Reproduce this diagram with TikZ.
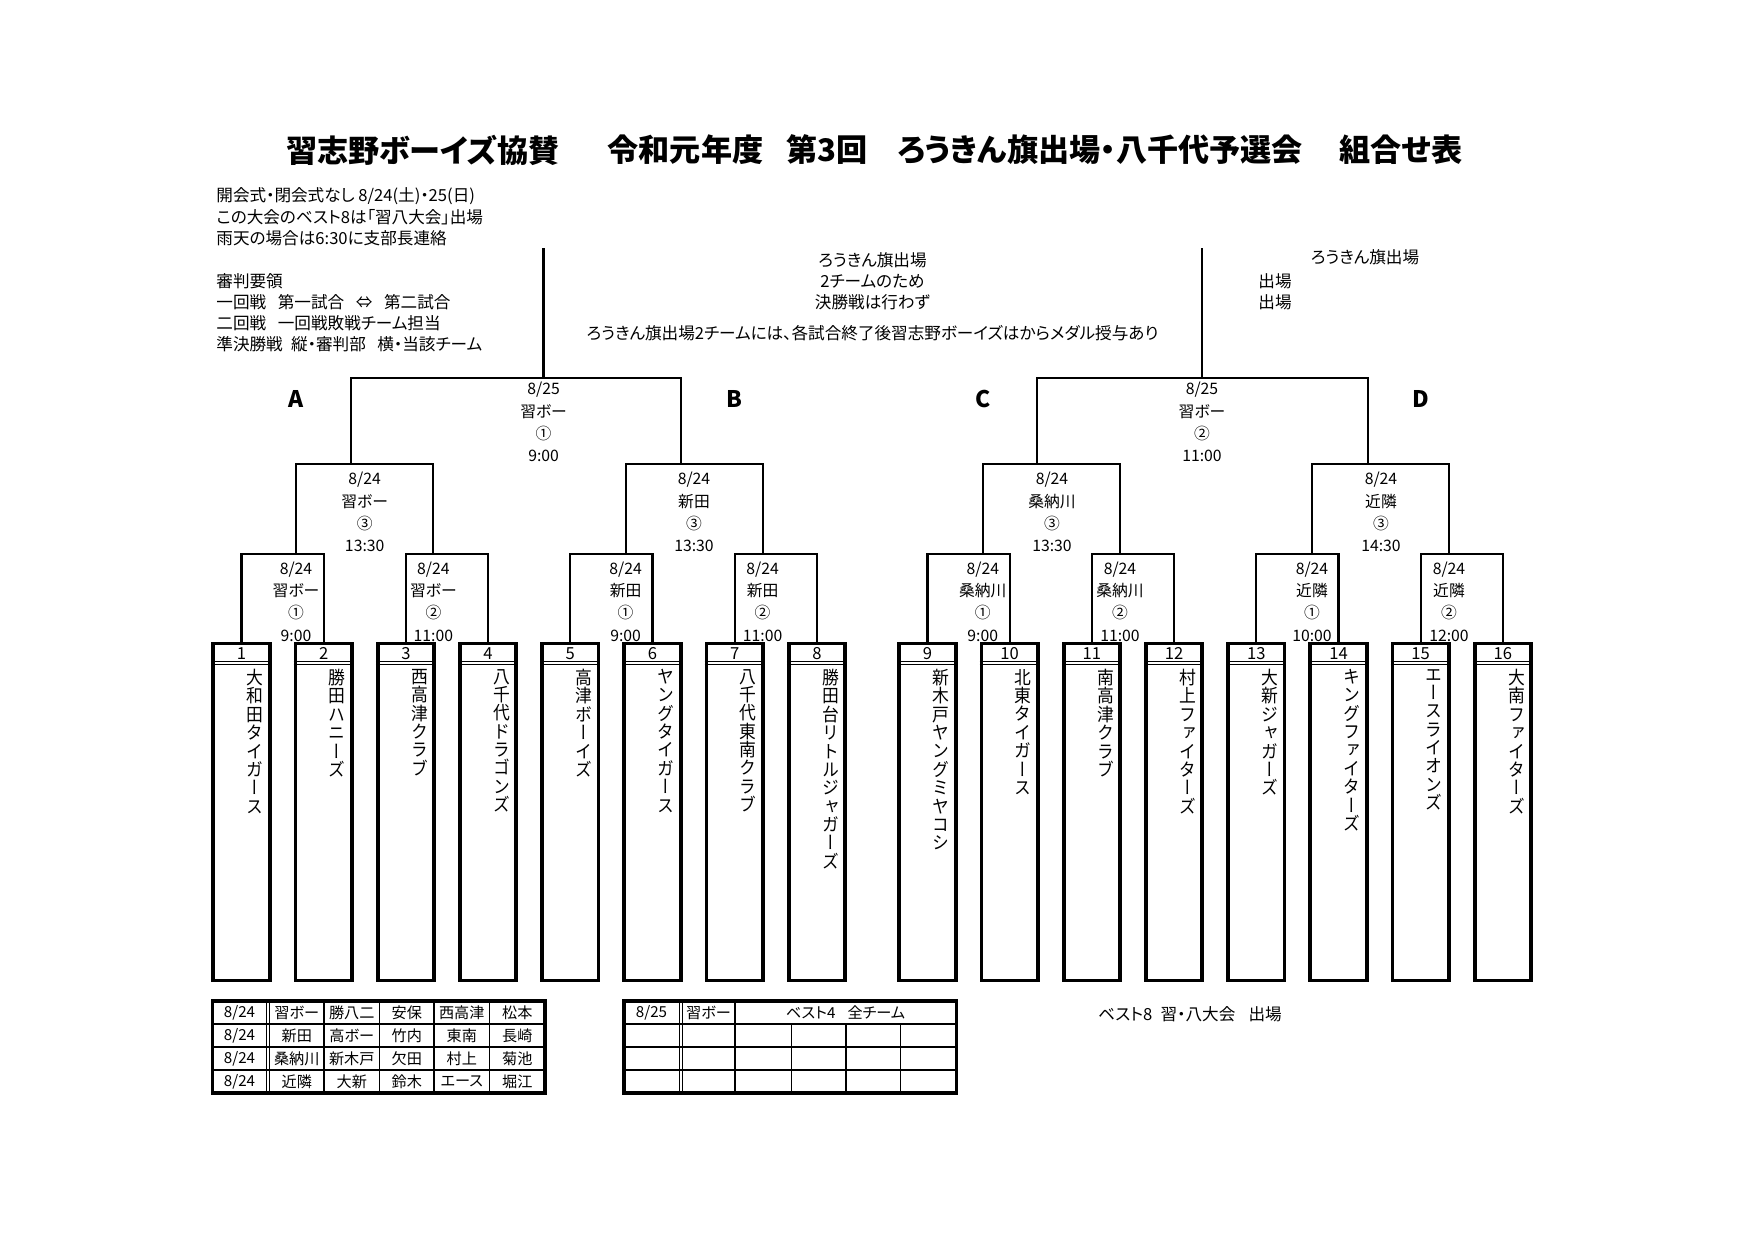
\documentclass[tikz,border=0pt]{standalone}
\usepackage{graphicx}
\usepackage{fontspec}
\setmainfont{Noto Sans CJK JP}[RawFeature=+palt]
\newfontfamily\tatefont{Noto Sans CJK JP}[RawFeature=+vert]
\usetikzlibrary{calc}
\newcommand\tateend{}
\def\tateloop#1{\ifx#1\tateend\else\hbox to 8.8pt{\hss\scalebox{0.92}[1]{#1}\hss}\expandafter\tateloop\fi}
\newcommand\tate[1]{\vtop{\tatefont\fontsize{8.8}{8.86}\selectfont\tateloop#1\tateend}}

\begin{document}
\begin{tikzpicture}[x=0.16933mm,y=-0.16933mm,
    bracket/.style={line width=1pt},
    topline/.style={line width=1.4pt},
    teambox/.style={draw,line width=1.8pt,minimum width=9.55mm,
      minimum height=57.1mm,inner sep=0pt},
    txt/.style={inner sep=0pt,font=\fontsize{8}{10.25}\selectfont},
    match/.style={inner sep=0pt,align=center,
      font=\fontsize{7.6}{10.74}\selectfont},
    region/.style={inner sep=0pt,font=\bfseries\fontsize{11}{13}\selectfont},
    titletxt/.style={inner sep=0pt,font=\bfseries\fontsize{15}{18}\selectfont},
    cell/.style={inner sep=0pt,font=\fontsize{7.3}{9}\selectfont},
    numtxt/.style={inner sep=0pt,font=\fontsize{8}{9}\selectfont},
    thickrule/.style={line width=1.6pt},
    midrule/.style={line width=0.9pt},
    thinrule/.style={line width=0.4pt}]
  \useasboundingbox (0,0) rectangle (1754,1240);
  \fill[white] (0,0) rectangle (1754,1240);

  \node[titletxt] (ti1) at (423,150) {習志野ボーイズ協賛};
  \node[titletxt] (ti2) at (685.5,150) {令和元年度};
  \node[titletxt] (ti3) at (827,150) {第3回};
  \node[titletxt] (ti4) at (1100,150) {ろうきん旗出場・八千代予選会};
  \node[titletxt] (ti5) at (1401,150) {組合せ表};

  \node[txt,anchor=north west,align=left] (info) at (216,187.5)
    {開会式・閉会式なし 8/24(土)・25(日)\\この大会のベスト8は「習八大会」出場\\雨天の場合は6:30に支部長連絡};
  \node[txt,anchor=north west,align=left] (rules) at (216,272.7)
    {審判要領\\一回戦\hspace{0.7em}第一試合\hspace{0.7em}⇔\hspace{0.7em}第二試合\\二回戦\hspace{0.7em}一回戦敗戦チーム担当\\準決勝戦\hspace{0.5em}縦・審判部\hspace{0.7em}横・当該チーム};

  \node[txt,align=center] (mid) at (872.5,281)
    {ろうきん旗出場\\2チームのため\\決勝戦は行わず};
  \node[txt] (medal) at (872.5,333)
    {ろうきん旗出場2チームには、各試合終了後習志野ボーイズはからメダル授与あり};
  \node[txt] (rflag) at (1365,257) {ろうきん旗出場};
  \node[txt,align=center] (rslot) at (1275,291.5) {出場\\出場};

  \foreach \i/\cx/\nm in {1/241.5/大和田タイガース, 2/323.7/勝田ハニーズ,
      3/405.9/西高津クラブ, 4/488.1/八千代ドラゴンズ, 5/570.3/高津ボーイズ,
      6/652.5/ヤングタイガース, 7/734.7/八千代東南クラブ,
      8/816.9/勝田台リトルジャガーズ, 9/927.5/新木戸ヤングミヤコシ,
      10/1009.7/北東タイガース, 11/1091.9/南高津クラブ,
      12/1174.1/村上ファイターズ, 13/1256.3/大新ジャガーズ,
      14/1338.5/キングファイターズ, 15/1420.7/エースライオンズ,
      16/1502.9/大南ファイターズ}{
    \node[teambox] (t\i) at (\cx,812) {};
    \node[numtxt] (n\i) at ([yshift=-2.0mm]t\i.north) {\i};
    \draw[thinrule] ([yshift=-3.4mm]t\i.north west) -- ([yshift=-3.4mm]t\i.north east);
    \draw[thinrule] ([yshift=-3.95mm]t\i.north west) -- ([yshift=-3.95mm]t\i.north east);
    \node[anchor=north,inner sep=0pt] (m\i) at ([xshift=2.3mm,yshift=-4.6mm]t\i.north)
      {\expandafter\tate\expandafter{\nm}};
  }

  \coordinate (jA1) at (296,553.7);
  \coordinate (jA2) at (433.4,553.7);
  \coordinate (jB1) at (625.6,553.7);
  \coordinate (jB2) at (762.6,553.7);
  \coordinate (jC1) at (982.8,553.7);
  \coordinate (jC2) at (1120,553.7);
  \coordinate (jD1) at (1312,553.7);
  \coordinate (jD2) at (1449,553.7);
  \coordinate (qA) at (351,464);
  \coordinate (qB) at (681,464);
  \coordinate (qC) at (1037,464);
  \coordinate (qD) at (1368,464);
  \coordinate (sL) at (543.6,378);
  \coordinate (sR) at (1202,378);
  \coordinate (topL) at (543.6,248);
  \coordinate (topR) at (1202,248);

  \draw[bracket] (t1.north) |- (jA1) -| (t2.north);
  \draw[bracket] (t3.north) |- (jA2) -| (t4.north);
  \draw[bracket] (t5.north) |- (jB1) -| (t6.north);
  \draw[bracket] (t7.north) |- (jB2) -| (t8.north);
  \draw[bracket] (t9.north) |- (jC1) -| (t10.north);
  \draw[bracket] (t11.north) |- (jC2) -| (t12.north);
  \draw[bracket] (t13.north) |- (jD1) -| (t14.north);
  \draw[bracket] (t15.north) |- (jD2) -| (t16.north);
  \draw[bracket] (jA1) |- (qA) -| (jA2);
  \draw[bracket] (jB1) |- (qB) -| (jB2);
  \draw[bracket] (jC1) |- (qC) -| (jC2);
  \draw[bracket] (jD1) |- (qD) -| (jD2);
  \draw[bracket] (qA) |- (sL) -| (qB);
  \draw[bracket] (qC) |- (sR) -| (qD);
  \draw[topline] (sL) -- (topL);
  \draw[topline] (sR) -- (topR);

  \node[match] (lA1) at (296,601.5) {8/24\\習ボー\\①\\9:00};
  \node[match] (lA2) at (433.4,601.5) {8/24\\習ボー\\②\\11:00};
  \node[match] (lB1) at (625.6,601.5) {8/24\\新田\\①\\9:00};
  \node[match] (lB2) at (762.6,601.5) {8/24\\新田\\②\\11:00};
  \node[match] (lC1) at (982.8,601.5) {8/24\\桑納川\\①\\9:00};
  \node[match] (lC2) at (1120,601.5) {8/24\\桑納川\\②\\11:00};
  \node[match] (lD1) at (1312,601.5) {8/24\\近隣\\①\\10:00};
  \node[match] (lD2) at (1449,601.5) {8/24\\近隣\\②\\12:00};
  \node[match] (lqA) at (364.7,512) {8/24\\習ボー\\③\\13:30};
  \node[match] (lqB) at (694,512) {8/24\\新田\\③\\13:30};
  \node[match] (lqC) at (1052,512) {8/24\\桑納川\\③\\13:30};
  \node[match] (lqD) at (1381,512) {8/24\\近隣\\③\\14:30};
  \node[match] (lsL) at (543.6,422) {8/25\\習ボー\\①\\9:00};
  \node[match] (lsR) at (1202,422) {8/25\\習ボー\\②\\11:00};

  \node[region] (rA) at (296,399) {A};
  \node[region] (rB) at (734.6,399) {B};
  \node[region] (rC) at (983,399) {C};
  \node[region] (rD) at (1421,399) {D};

  \draw[thickrule] (212.5,1001) rectangle (545,1093);
  \foreach \y in {1024,1047,1070} \draw[midrule] (212.5,\y) -- (545,\y);
  \foreach \x in {266.5,269.5,379.5,489.5} \draw[thinrule] (\x,1001) -- (\x,1093);
  \foreach \x in {324,434} \draw[midrule] (\x,1001) -- (\x,1093);
  \foreach \r/\y/\b/\c/\d/\e/\f in {1/1012.5/習ボー/勝八二/安保/西高津/松本,
      2/1035.5/新田/高ボー/竹内/東南/長崎, 3/1058.5/桑納川/新木戸/欠田/村上/菊池,
      4/1081.5/近隣/大新/鈴木/エース/堀江}{
    \node[cell] (a\r) at (239.5,\y) {8/24};
    \node[cell] (b\r) at (296.8,\y) {\b};
    \node[cell] (c\r) at (351.8,\y) {\c};
    \node[cell] (d\r) at (406.8,\y) {\d};
    \node[cell] (e\r) at (461.8,\y) {\e};
    \node[cell] (f\r) at (517.3,\y) {\f};
  }

  \draw[thickrule] (624,1001) rectangle (956.5,1093);
  \foreach \y in {1024,1047,1070} \draw[midrule] (624,\y) -- (956.5,\y);
  \foreach \x in {679,682} \draw[thinrule] (\x,1001) -- (\x,1093);
  \draw[midrule] (735,1001) -- (735,1093);
  \foreach \x in {791,900.5} \draw[thinrule] (\x,1024) -- (\x,1093);
  \draw[midrule] (845.6,1024) -- (845.6,1093);
  \node[cell] (h1) at (651.5,1012.5) {8/25};
  \node[cell] (h2) at (708.5,1012.5) {習ボー};
  \node[cell] (h3) at (845.6,1012.5) {ベスト4\hspace{0.8em}全チーム};

  \node[txt] (best8) at (1190,1014) {ベスト8\hspace{0.5em}習・八大会\hspace{0.8em}出場};
\end{tikzpicture}
\end{document}
